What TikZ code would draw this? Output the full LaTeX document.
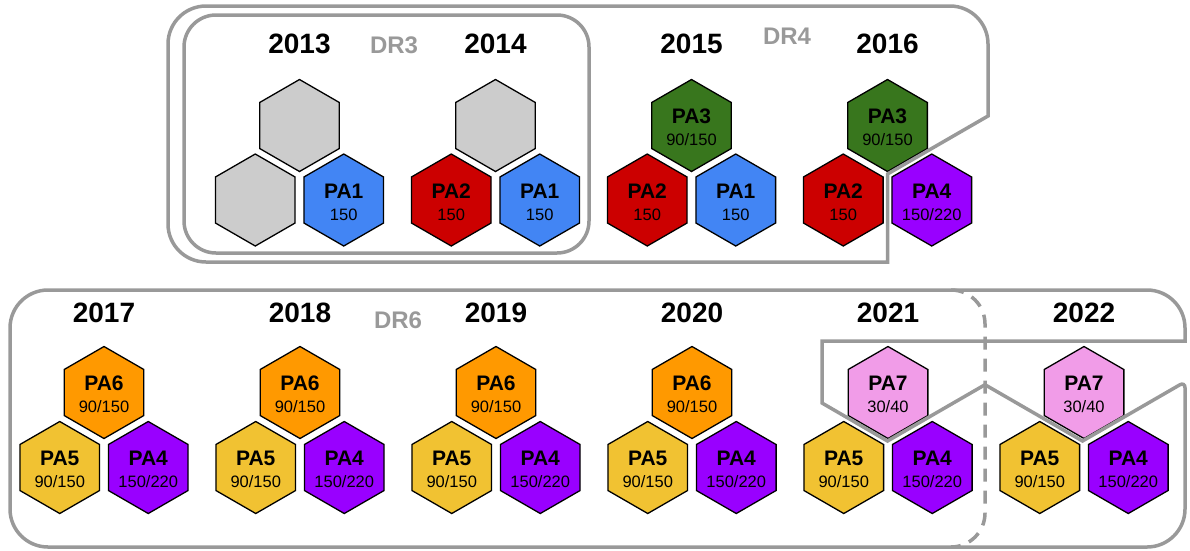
\documentclass[tikz,border=0pt]{standalone}
\usepackage{fontspec}
\setmainfont{Liberation Sans}
\usetikzlibrary{shapes.geometric,calc}

\definecolor{drgray}{HTML}{999999}
\definecolor{hexgray}{HTML}{CCCCCC}
\definecolor{pa1}{HTML}{4285F4}
\definecolor{pa2}{HTML}{CC0000}
\definecolor{pa3}{HTML}{38761D}
\definecolor{pa4}{HTML}{9900FF}
\definecolor{pa5}{HTML}{F1C232}
\definecolor{pa6}{HTML}{FF9900}
\definecolor{pa7}{HTML}{F19CE8}

% one coloured cell: name, x, y, fill, title, value
\newcommand{\pahex}[6]{%
  \node[hexa, fill=#4] (#1) at (#2,#3) {};
  \node[patitle] (#1-t) at ($(#1)+(0,-2)$) {#5};
  \node[paval] (#1-v) at ($(#1)+(0,20)$) {#6};
}

\begin{document}
\begin{tikzpicture}[x=1pt, y=-1pt,
  hexa/.style={regular polygon, regular polygon sides=6, shape border rotate=30,
    minimum size=92pt, inner sep=0pt, draw=black, line width=1.3pt},
  patitle/.style={anchor=base, inner sep=0pt, font=\fontsize{21}{21}\selectfont\bfseries},
  paval/.style={anchor=base, inner sep=0pt, font=\fontsize{16.5}{16.5}\selectfont},
  year/.style={anchor=base, inner sep=0pt, font=\fontsize{28}{28}\selectfont\bfseries},
  drlabel/.style={anchor=base, inner sep=0pt, text=drgray, font=\fontsize{24}{24}\selectfont\bfseries},
  drline/.style={draw=drgray, line width=3.5pt}]
  \useasboundingbox (0,0) rectangle (1190,550);

  % 2013 - 2016
  \foreach \yr/\cx in {2013/299.5, 2014/495.5, 2015/691.5, 2016/887.5}
    \node[year] (y\yr) at (\cx,53) {\yr};
  \node[hexa, fill=hexgray] (t2013) at (299.5,125.5) {};
  \node[hexa, fill=hexgray] (l2013) at (255.25,200) {};
  \pahex{r2013}{343.75}{200}{pa1}{PA1}{150}
  \node[hexa, fill=hexgray] (t2014) at (495.5,125.5) {};
  \pahex{l2014}{451.25}{200}{pa2}{PA2}{150}
  \pahex{r2014}{539.75}{200}{pa1}{PA1}{150}
  \pahex{t2015}{691.5}{125.5}{pa3}{PA3}{90/150}
  \pahex{l2015}{647.25}{200}{pa2}{PA2}{150}
  \pahex{r2015}{735.75}{200}{pa1}{PA1}{150}
  \pahex{t2016}{887.5}{125.5}{pa3}{PA3}{90/150}
  \pahex{l2016}{843.25}{200}{pa2}{PA2}{150}
  \pahex{r2016}{931.75}{200}{pa4}{PA4}{150/220}

  % 2017 - 2022
  \foreach \yr/\pn/\pc/\pv [count=\i from 0] in
    {2017/PA6/pa6/{90/150}, 2018/PA6/pa6/{90/150}, 2019/PA6/pa6/{90/150},
     2020/PA6/pa6/{90/150}, 2021/PA7/pa7/{30/40}, 2022/PA7/pa7/{30/40}} {
    \pgfmathsetmacro\cx{104+196*\i}
    \node[year] (y\yr) at (\cx,322) {\yr};
    \pahex{t\yr}{\cx}{392.5}{\pc}{\pn}{\pv}
    \pahex{l\yr}{\cx-44.25}{467.5}{pa5}{PA5}{90/150}
    \pahex{r\yr}{\cx+44.25}{467.5}{pa4}{PA4}{150/220}
  }

  \node[drlabel] (dr3) at (394,53) {DR3};
  \node[drlabel] (dr4) at (787,44) {DR4};
  \node[drlabel] (dr6) at (398,328) {DR6};

  \draw[drline, rounded corners=32] (184,15) rectangle (589,253);
  \draw[drline] (500,262) [rounded corners=38] -- (168,262) -- (168,6) -- (988,6)
    [sharp corners] -- (988,116) -- (887.5,174) -- (887.5,262) -- cycle;
  \draw[drline] (500,547) [rounded corners=38] -- (10,547) -- (10,290) -- (1185,290)
    [sharp corners] -- (1185,341) -- (822,341) -- (822,403) -- (887.5,441)
    -- (985,384.7) -- (1082.5,441) [rounded corners=6] -- (1185,381.8)
    [rounded corners=38] -- (1185,547) -- cycle;
  \draw[drline, dash pattern=on 13pt off 9pt, rounded corners=34]
    (951,290) -- (985,290) -- (985,547) -- (951,547);
\end{tikzpicture}
\end{document}
